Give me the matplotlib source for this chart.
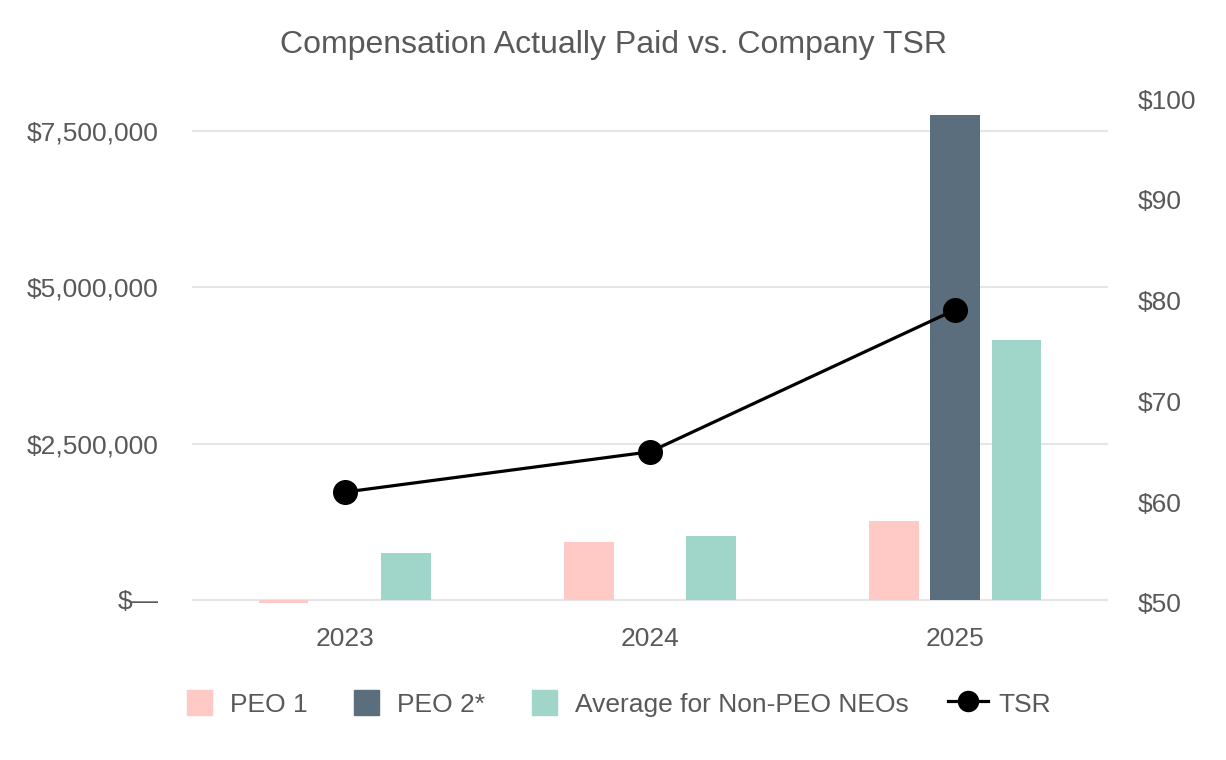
import numpy as np
import matplotlib.pyplot as plt
from matplotlib.ticker import FuncFormatter
from matplotlib.patches import Rectangle
from matplotlib.legend_handler import HandlerPatch

plt.rcParams['font.family'] = ['Liberation Sans', 'DejaVu Sans']

# data
years = ['2023', '2024', '2025']
peo1 = [-60000, 928000, 1264000]
peo2 = [0, 0, 7760000]
neo_avg = [752000, 1024000, 4160000]
tsr = [61.0, 65.0, 79.1]
series_names = ['PEO 1', 'PEO 2*', 'Average for Non-PEO NEOs', 'TSR']

c_peo1 = '#FFCAC6'
c_peo2 = '#5A6E7D'
c_neo = '#A0D5CA'
txt = '#595959'


def square_patch(legend, orig_handle, xdescent, ydescent, width, height, fontsize):
    side = height * 1.05
    return Rectangle((-xdescent + (width - side) / 2, -ydescent + (height - side) / 2), side, side)


fig = plt.figure(figsize=(12.26, 7.6), dpi=100)
ax = fig.add_axes([0.1566, 0.2066, 0.7472, 0.6631])
ax2 = ax.twinx()

x = np.arange(len(years))
w = 0.163
off = 0.2
ax.bar(x - off, peo1, w, color=c_peo1, zorder=2)
peo2_plot = [v if v else np.nan for v in peo2]
ax.bar(x, peo2_plot, w, color=c_peo2, zorder=2)
ax.bar(x + off, neo_avg, w, color=c_neo, zorder=2)

line, = ax2.plot(x, tsr, color='black', lw=2.3, marker='o', ms=17)

ax.set_xlim(-0.5, 2.5)
ax.set_ylim(-48000, 8012000)
ax.set_yticks([0, 2500000, 5000000, 7500000])
ax.yaxis.set_major_formatter(FuncFormatter(lambda v, p: '$—' if v == 0 else f'${v:,.0f}'))
ax2.set_ylim(50, 100)
ax2.set_yticks([50, 60, 70, 80, 90, 100])
ax2.yaxis.set_major_formatter(FuncFormatter(lambda v, p: f'${v:.0f}'))

ax.set_xticks(x)
ax.set_xticklabels(years)
ax.grid(axis='y', color='#E6E6E6', lw=1.5, zorder=0)
ax.set_axisbelow(True)
for a in (ax, ax2):
    for s in a.spines.values():
        s.set_visible(False)
    a.tick_params(length=0, labelsize=19, colors=txt)
ax.tick_params(axis='y', pad=24)
ax.tick_params(axis='x', pad=17)
ax2.tick_params(axis='y', pad=21)

fig.text(0.5, 0.941, 'Compensation Actually Paid vs. Company TSR', ha='center',
         va='center', fontsize=23, color=txt)

handles = [Rectangle((0, 0), 1, 1, color=c) for c in (c_peo1, c_peo2, c_neo)] + [line]
fig.legend(handles, series_names, loc='center', bbox_to_anchor=(0.502, 0.074), ncol=4,
           frameon=False, fontsize=19, labelcolor=txt, handlelength=1.5,
           handleheight=1.0, columnspacing=1.5, handletextpad=0.4, markerscale=0.85,
           handler_map={Rectangle: HandlerPatch(patch_func=square_patch)})

fig.savefig('out.png', dpi=100)
